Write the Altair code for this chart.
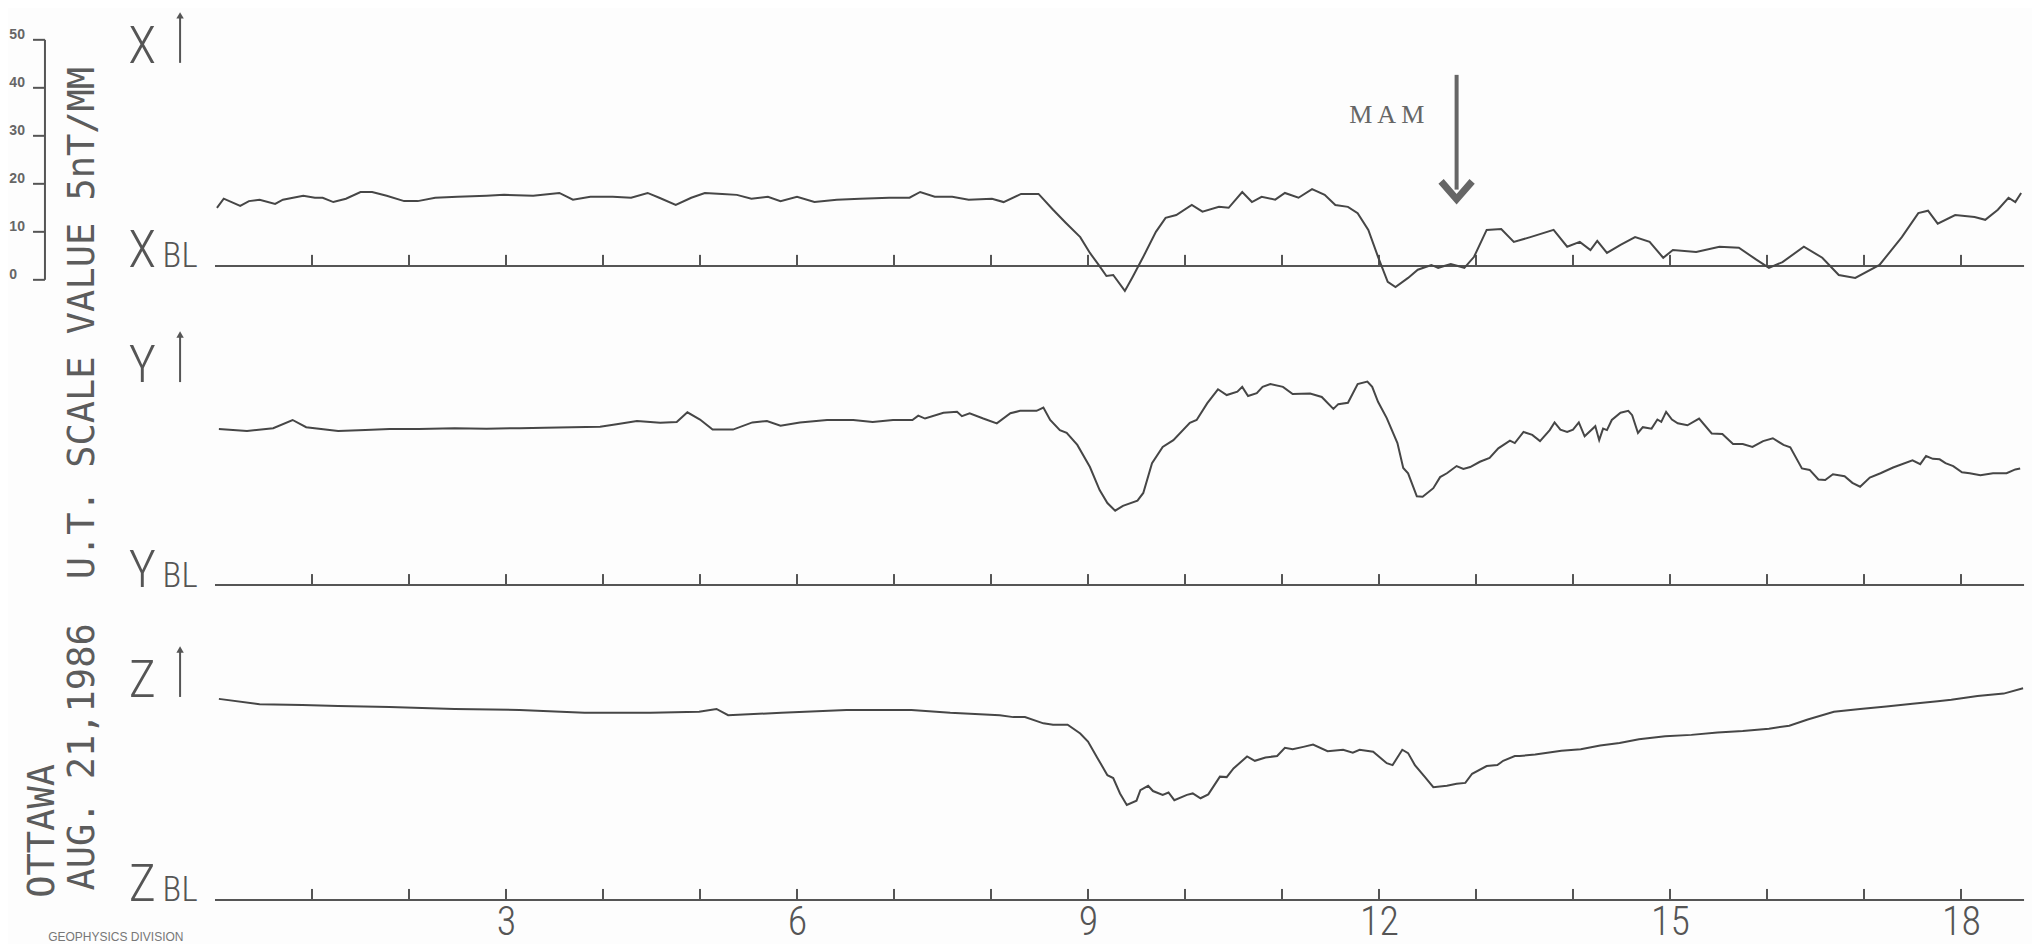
import altair as alt
import pandas as pd

# ---------------- data ----------------
COMPONENTS = ["X", "Y", "Z"]

# (hour UT, nT above the component's base line)
X_TRACE = [(0.02,12.1),(0.09,14.0),(0.26,12.5),(0.35,13.5),(0.46,13.8),(0.62,12.9),(0.70,13.8),(0.91,14.6),(1.03,14.2),(1.11,14.2),(1.22,13.3),(1.35,14.0),(1.50,15.4),(1.62,15.4),(1.77,14.6),(1.95,13.5),(2.09,13.5),(2.27,14.2),(2.50,14.4),(2.80,14.6),(2.98,14.8),(3.28,14.6),(3.55,15.2),(3.69,13.8),(3.87,14.4),(4.10,14.4),(4.29,14.2),(4.46,15.2),(4.58,14.2),(4.75,12.7),(4.91,14.2),(5.05,15.2),(5.23,15.0),(5.38,14.8),(5.53,14.0),(5.70,14.4),(5.83,13.5),(6.00,14.4),(6.18,13.3),(6.41,13.8),(6.65,14.0),(6.95,14.2),(7.16,14.2),(7.27,15.4),(7.42,14.4),(7.60,14.4),(7.77,13.8),(8.01,14.0),(8.13,13.3),(8.31,15.0),(8.49,15.0),(8.64,11.7),(8.77,9.0),(8.92,6.0),(9.02,2.7),(9.11,0.2),(9.19,-2.1),(9.26,-1.9),(9.38,-5.2),(9.46,-2.3),(9.57,1.9),(9.70,7.1),(9.80,10.0),(9.91,10.6),(10.07,12.7),(10.18,11.3),(10.35,12.3),(10.45,12.1),(10.59,15.4),(10.69,13.3),(10.79,14.4),(10.93,13.8),(11.03,15.2),(11.17,14.2),(11.31,16.0),(11.44,14.8),(11.55,12.7),(11.68,12.3),(11.78,11.0),(11.89,7.5),(11.99,1.9),(12.09,-3.3),(12.17,-4.4),(12.30,-2.5),(12.40,-0.8),(12.54,0.2),(12.61,-0.4),(12.74,0.4),(12.88,-0.4),(12.98,1.9),(13.11,7.5),(13.26,7.7),(13.39,5.0),(13.56,6.0),(13.80,7.5),(13.94,4.0),(14.07,5.0),(14.18,3.3),(14.25,5.2),(14.35,2.7),(14.49,4.4),(14.64,6.0),(14.79,5.0),(14.93,1.7),(15.03,3.3),(15.27,2.9),(15.51,4.0),(15.71,3.8),(15.89,1.3),(16.02,-0.4),(16.16,0.8),(16.38,4.0),(16.57,1.7),(16.74,-1.9),(16.91,-2.5),(17.16,0.2),(17.39,6.0),(17.56,11.0),(17.66,11.5),(17.76,8.8),(17.94,10.6),(18.14,10.2),(18.25,9.6),(18.38,11.7),(18.49,14.2),(18.56,13.3),(18.62,15.2)]

Y_TRACE = [(0.04,32.5),(0.33,32.1),(0.60,32.7),(0.80,34.4),(0.94,32.9),(1.27,32.1),(1.55,32.3),(1.80,32.5),(2.10,32.5),(2.47,32.7),(2.80,32.6),(3.14,32.7),(3.40,32.8),(3.68,32.9),(3.97,33.0),(4.14,33.5),(4.35,34.2),(4.59,33.8),(4.76,34.0),(4.87,36.0),(5.00,34.5),(5.13,32.4),(5.34,32.4),(5.54,33.9),(5.69,34.2),(5.83,33.2),(6.03,33.9),(6.31,34.4),(6.58,34.4),(6.78,34.0),(6.99,34.4),(7.19,34.4),(7.25,35.3),(7.32,34.7),(7.51,35.9),(7.65,36.1),(7.70,35.2),(7.78,35.8),(7.92,34.7),(8.06,33.7),(8.20,35.8),(8.30,36.3),(8.47,36.3),(8.54,37.0),(8.61,34.4),(8.71,32.3),(8.78,31.7),(8.89,29.2),(9.02,24.6),(9.12,19.8),(9.20,17.1),(9.28,15.5),(9.36,16.5),(9.51,17.6),(9.57,19.2),(9.66,25.4),(9.77,28.8),(9.88,30.2),(10.05,33.8),(10.12,34.4),(10.23,37.9),(10.34,40.8),(10.43,39.6),(10.54,40.3),(10.59,41.3),(10.65,39.4),(10.74,40.0),(10.80,41.3),(10.88,41.9),(11.01,41.3),(11.11,39.8),(11.29,39.9),(11.41,39.2),(11.53,36.7),(11.58,37.7),(11.68,38.0),(11.78,41.9),(11.88,42.4),(11.93,41.3),(11.99,38.2),(12.08,34.8),(12.19,29.6),(12.25,24.4),(12.30,23.3),(12.39,18.5),(12.45,18.4),(12.56,20.2),(12.63,22.5),(12.70,23.3),(12.80,24.8),(12.87,24.2),(12.94,24.6),(13.04,25.7),(13.14,26.5),(13.23,28.5),(13.35,30.1),(13.40,29.6),(13.49,31.9),(13.58,31.3),(13.66,30.0),(13.76,32.3),(13.81,33.9),(13.87,32.4),(13.94,31.9),(14.00,32.4),(14.06,33.9),(14.12,31.0),(14.23,33.1),(14.27,30.2),(14.31,32.6),(14.35,32.3),(14.40,34.4),(14.49,35.9),(14.57,36.3),(14.61,35.4),(14.67,31.7),(14.72,32.9),(14.81,32.6),(14.87,34.5),(14.91,34.0),(14.96,36.1),(15.02,34.5),(15.08,33.7),(15.18,33.3),(15.30,34.7),(15.43,31.6),(15.54,31.5),(15.65,29.4),(15.75,29.4),(15.85,28.8),(15.96,30.0),(16.06,30.6),(16.17,29.2),(16.24,28.7),(16.36,24.3),(16.44,24.0),(16.53,22.0),(16.60,21.9),(16.68,23.1),(16.80,22.7),(16.88,21.3),(16.96,20.5),(17.06,22.4),(17.17,23.3),(17.30,24.5),(17.50,26.0),(17.58,25.2),(17.64,26.9),(17.71,26.3),(17.78,26.2),(17.84,25.4),(17.92,24.8),(18.01,23.5),(18.09,23.3),(18.20,22.9),(18.33,23.3),(18.47,23.3),(18.56,24.1),(18.61,24.3)]

Z_TRACE = [(0.04,41.9),(0.46,40.8),(0.90,40.6),(1.27,40.4),(1.80,40.2),(2.47,39.8),(3.14,39.6),(3.81,39.0),(4.49,39.0),(4.99,39.2),(5.17,39.8),(5.29,38.5),(5.84,39.0),(6.51,39.6),(7.18,39.6),(7.58,39.0),(8.09,38.5),(8.23,38.1),(8.35,38.1),(8.54,36.8),(8.64,36.5),(8.79,36.5),(8.92,34.7),(9.00,33.0),(9.10,29.5),(9.20,26.0),(9.26,25.4),(9.33,22.2),(9.40,19.8),(9.50,20.7),(9.54,22.9),(9.62,23.8),(9.67,22.7),(9.77,21.9),(9.83,22.4),(9.89,20.8),(10.02,21.9),(10.08,22.2),(10.16,21.2),(10.24,22.0),(10.36,25.7),(10.43,25.6),(10.50,27.4),(10.64,29.9),(10.72,29.0),(10.83,29.7),(10.95,30.0),(11.03,31.7),(11.11,31.4),(11.22,31.9),(11.32,32.4),(11.47,31.0),(11.63,31.3),(11.73,30.7),(11.80,31.3),(11.94,30.9),(12.08,28.5),(12.14,28.1),(12.24,31.3),(12.30,30.6),(12.37,28.1),(12.47,25.7),(12.56,23.5),(12.70,23.8),(12.80,24.2),(12.89,24.4),(12.96,26.3),(13.11,27.9),(13.22,28.1),(13.28,29.0),(13.40,30.0),(13.45,30.0),(13.61,30.3),(13.88,31.1),(14.08,31.4),(14.28,32.2),(14.48,32.7),(14.68,33.5),(14.95,34.1),(15.22,34.4),(15.49,34.9),(15.75,35.2),(16.02,35.7),(16.23,36.3),(16.42,37.6),(16.69,39.2),(16.96,39.8),(17.23,40.3),(17.50,40.9),(17.76,41.4),(17.90,41.7),(18.17,42.5),(18.44,43.0),(18.64,44.1)]

HOUR_TICKS = list(range(1, 19))
HOUR_LABELS = [3, 6, 9, 12, 15, 18]
SCALE_VALUES = [0, 10, 20, 30, 40, 50]
SCALE_LABELS = ["0", "10", "20", "30", "40", "50"]
RECORD_START, RECORD_END = 0.0, 18.65
MAM_TEXT = "M A M"
MAM_HOUR = 12.8
TITLE_DATE = "AUG. 21,1986"
TITLE_SCALE = "U.T. SCALE VALUE 5nT/MM"
TITLE_STATION = "OTTAWA"
FOOTER = "GEOPHYSICS DIVISION"

# ---------------- layout (plot units: hours, nT) ----------------
W, H = 2024, 892
X_DOMAIN = [-2.134, 18.732]
Y_DOMAIN = [0, 185.83]
LEVEL = {"X": 132.1, "Y": 65.6, "Z": 0.0}     # base-line level of each trace
TICK_LEN = 2.3
INK = "#555555"
LIGHT = "Roboto Condensed, Liberation Sans Narrow, Roboto, sans-serif"
MONO = "DejaVu Sans Mono, Liberation Mono, monospace"

xs = alt.Scale(domain=X_DOMAIN, nice=False, zero=False)
ys = alt.Scale(domain=Y_DOMAIN, nice=False, zero=False)
x_axis = alt.Axis(values=HOUR_LABELS, domain=False, ticks=False, tickSize=0, grid=False,
                  labelFontSize=40, labelFont=LIGHT, labelColor=INK, labelPadding=34,
                  labelBaseline="alphabetic", labelFontWeight=300, title=None)


def X(field):
    return alt.X(field, type="quantitative", scale=xs, axis=x_axis)


def Y(field):
    return alt.Y(field, type="quantitative", scale=ys, axis=None)


# traces
frames = []
for comp, trace in zip(COMPONENTS, [X_TRACE, Y_TRACE, Z_TRACE]):
    f = pd.DataFrame(trace, columns=["hour", "value"])
    f["comp"] = comp
    f["level"] = f["value"] + LEVEL[comp]
    frames.append(f)
traces = pd.concat(frames, ignore_index=True)

trace_layer = alt.Chart(traces).mark_line(color="#464646", strokeWidth=2).encode(
    x=X("hour"), y=Y("level"), detail="comp:N", order="hour:Q")

# base lines
base = pd.DataFrame({"comp": COMPONENTS, "start": RECORD_START, "end": RECORD_END,
                     "level": [LEVEL[c] for c in COMPONENTS]})
base_layer = alt.Chart(base).mark_rule(color=INK, strokeWidth=2).encode(
    x=X("start"), x2="end", y=Y("level"))

# hour ticks on each base line
ticks = pd.DataFrame([(c, h, LEVEL[c], LEVEL[c] + TICK_LEN) for c in COMPONENTS for h in HOUR_TICKS],
                     columns=["comp", "hour", "level", "top"])
tick_layer = alt.Chart(ticks).mark_rule(color=INK, strokeWidth=2).encode(
    x=X("hour"), y=Y("level"), y2="top")

# component letters
letters = pd.DataFrame({
    "txt": COMPONENTS + COMPONENTS,
    "hour": [-0.75] * 6,
    "lev": [LEVEL[c] + 42.3 for c in COMPONENTS] + [LEVEL[c] - 0.3 for c in COMPONENTS],
})
letter_layer = alt.Chart(letters).mark_text(
    font=LIGHT, fontSize=52, fontWeight=300, color=INK, align="center", baseline="alphabetic"
).encode(x=X("hour"), y=Y("lev"), text="txt:N")

bl = pd.DataFrame({"txt": ["BL"] * 3, "hour": [-0.54] * 3,
                   "lev": [LEVEL[c] - 0.3 for c in COMPONENTS]})
bl_layer = alt.Chart(bl).mark_text(
    font=LIGHT, fontSize=35, fontWeight=300, color=INK, align="left", baseline="alphabetic"
).encode(x=X("hour"), y=Y("lev"), text="txt:N")

# small up arrows beside the letters
arrows = pd.DataFrame({"hour": [-0.36] * 3,
                       "lo": [LEVEL[c] + 42.3 for c in COMPONENTS],
                       "hi": [LEVEL[c] + 51.8 for c in COMPONENTS],
                       "head": [LEVEL[c] + 52.2 for c in COMPONENTS]})
arrow_shaft = alt.Chart(arrows).mark_rule(color=INK, strokeWidth=2).encode(
    x=X("hour"), y=Y("lo"), y2="hi")
arrow_head = alt.Chart(arrows).mark_point(shape="triangle-up", filled=True, size=55,
                                          color=INK, opacity=1).encode(x=X("hour"), y=Y("head"))

# scale bar (0..50 nT)
SCALE_ZERO = LEVEL["X"] - 2.9
scale_df = pd.DataFrame({"v": SCALE_VALUES, "lab": SCALE_LABELS})
scale_df["lev"] = scale_df["v"] + SCALE_ZERO
scale_df["lablev"] = scale_df["lev"] + 1.0
scale_df["x0"] = -1.876
scale_df["x1"] = -1.753
scale_df["xl"] = -2.12
scale_line = alt.Chart(pd.DataFrame({"x": [-1.753], "lo": [SCALE_ZERO], "hi": [SCALE_ZERO + 50]})).mark_rule(
    color=INK, strokeWidth=2).encode(x=X("x"), y=Y("lo"), y2="hi")
scale_ticks = alt.Chart(scale_df).mark_rule(color=INK, strokeWidth=2).encode(
    x=X("x0"), x2="x1", y=Y("lev"))
scale_text = alt.Chart(scale_df).mark_text(
    font="Liberation Sans, sans-serif", fontSize=14, fontWeight="bold", color="#666666",
    align="left", baseline="middle"
).encode(x=X("xl"), y=Y("lablev"), text="lab:N")

# rotated titles
titles = pd.DataFrame({
    "txt": [TITLE_DATE, TITLE_SCALE, TITLE_STATION],
    "hour": [-1.36, -1.36, -1.775],
    "lev": [29.8, 120.2, 14.4],
})
title_layer = alt.Chart(titles).mark_text(
    font=MONO, fontSize=37, color="#5c5c5c", angle=270, align="center", baseline="middle"
).encode(x=X("hour"), y=Y("lev"), text="txt:N")

# MAM arrow
mam_text = alt.Chart(pd.DataFrame({"txt": [MAM_TEXT], "hour": [12.08], "lev": [163.5]})).mark_text(
    font="Liberation Serif, DejaVu Serif, serif", fontSize=26, color="#666666",
    align="center", baseline="middle"
).encode(x=X("hour"), y=Y("lev"), text="txt:N")
mam_shaft = alt.Chart(pd.DataFrame({"hour": [MAM_HOUR], "lo": [148.0], "hi": [171.9]})).mark_rule(
    color="#666666", strokeWidth=4).encode(x=X("hour"), y=Y("lo"), y2="hi")
mam_head = alt.Chart(pd.DataFrame({"hour": [MAM_HOUR - 0.16, MAM_HOUR, MAM_HOUR + 0.16],
                                   "lev": [149.7, 146.0, 149.7], "o": [0, 1, 2]})).mark_line(
    color="#666666", strokeWidth=7, strokeJoin="miter", strokeCap="butt"
).encode(x=X("hour"), y=Y("lev"), order="o:Q")

footer = alt.Chart(pd.DataFrame({"txt": [FOOTER], "hour": [-1.72], "lev": [-6.7]})).mark_text(
    font="Liberation Sans, sans-serif", fontSize=12, color="#777777", align="left", baseline="top"
).encode(x=X("hour"), y=Y("lev"), text="txt:N")

chart = alt.layer(
    base_layer, tick_layer, trace_layer, letter_layer, bl_layer, arrow_shaft, arrow_head,
    scale_line, scale_ticks, scale_text, title_layer, mam_text, mam_shaft, mam_head, footer
).properties(width=W, height=H, padding=0, background="#fdfdfd").configure_view(stroke=None)

chart.save("out.html", embed_options={"renderer": "svg", "actions": False})
